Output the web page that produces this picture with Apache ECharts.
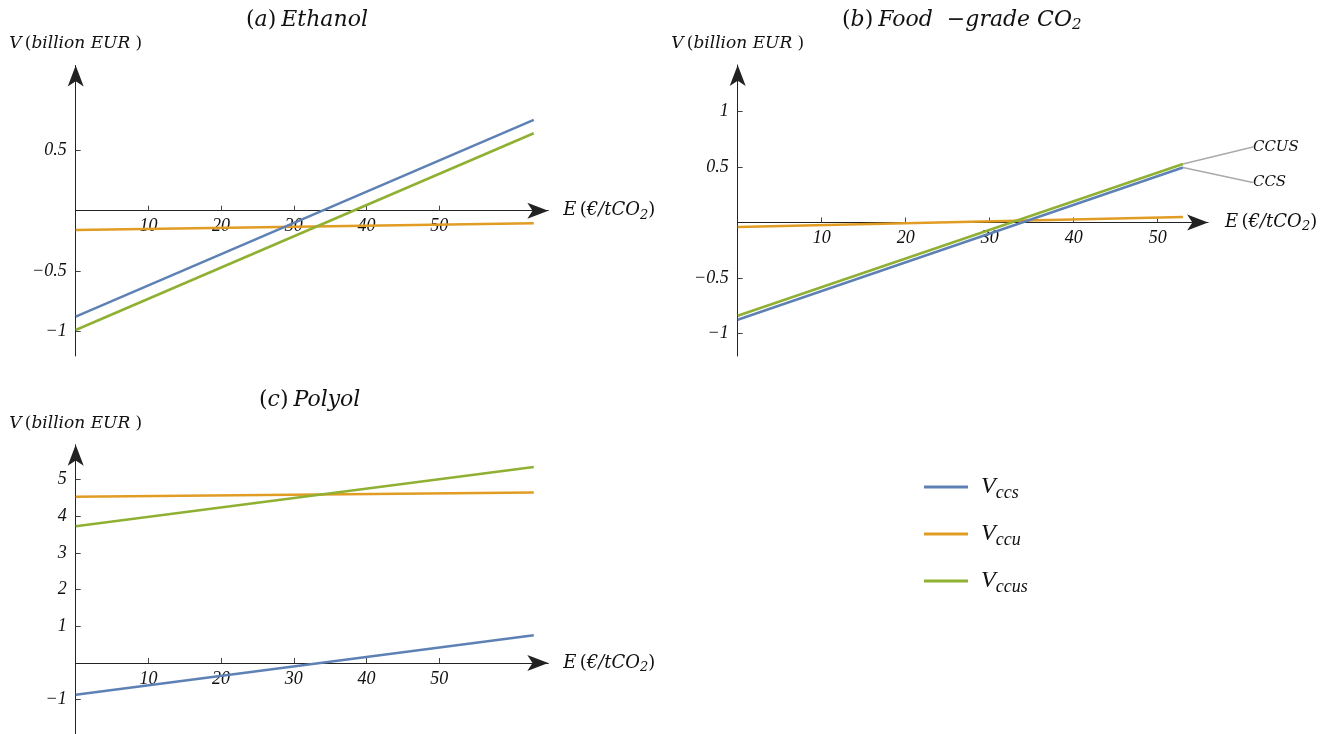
<!DOCTYPE html>
<html>
<head>
<meta charset="utf-8">
<script src="https://cdn.jsdelivr.net/npm/echarts@6/dist/echarts.min.js"></script>
<style>
html,body{margin:0;padding:0;background:#fff;}
#chart{width:1330px;height:734px;}
</style>
</head>
<body>
<div id="chart"></div>
<script>
// ---------- data ----------
const xTicks = [10, 20, 30, 40, 50];

// (a) Ethanol
const aE = [0, 63];
const aCcs = [-0.876, 0.75];
const aCcu = [-0.16, -0.104];
const aCcus = [-0.986, 0.64];
const aYTicks = [-1, -0.5, 0.5];

// (b) Food-grade CO2
const bE = [0, 53];
const bCcs = [-0.874, 0.494];
const bCcu = [-0.04, 0.049];
const bCcus = [-0.838, 0.525];
const bYTicks = [-1, -0.5, 0.5, 1];
const bCallouts = ['CCUS', 'CCS'];

// (c) Polyol
const cE = [0, 63];
const cCcs = [-0.865, 0.753];
const cCcu = [4.53, 4.65];
const cCcus = [3.73, 5.345];
const cYTicks = [-1, 1, 2, 3, 4, 5];

const seriesNames = ['Vccs', 'Vccu', 'Vccus'];
const legendSubs = { Vccs: 'ccs', Vccu: 'ccu', Vccus: 'ccus' };
const colors = ['#5E81B5', '#E19C24', '#8FB032'];

// ---------- styling helpers ----------
const FONT = "'Liberation Serif', 'DejaVu Serif', serif";
const WIDE = "'DejaVu Serif', 'Liberation Serif', serif";
const pairs = (xs, ys) => xs.map((x, i) => [x, ys[i]]);
const minus = v => String(v).replace('-', '\u2212');

const xNameRich = {
  i: { fontFamily: WIDE, fontStyle: 'italic', fontSize: 18, color: '#111' },
  n: { fontFamily: WIDE, fontSize: 18, color: '#111' },
  sub: { fontFamily: WIDE, fontStyle: 'italic', fontSize: 13, color: '#111', padding: [9, 0, 0, 0] }
};
const xName = '{i|E} {n|(}{i|\u20AC/tCO}{sub|2}{n|)}';
const yName = '{i|V} {n|(}{i|billion EUR }{n|)}';
const yNameRich = {
  i: { fontFamily: WIDE, fontStyle: 'italic', fontSize: 17, color: '#111' },
  n: { fontFamily: WIDE, fontSize: 17, color: '#111' }
};

const AXIS_COLOR = '#222';

// x axis sits on y = 0: its offset is derived from the y scale of the same panel
function xAxisFor(gi, max, gap, yMin, yMax, gridH) {
  const zeroOffset = -((0 - yMin) / (yMax - yMin)) * gridH;
  return {
    gridIndex: gi, type: 'value', min: 0, max: max,
    position: 'bottom', offset: zeroOffset,
    name: xName, nameLocation: 'end', nameGap: gap,
    nameTextStyle: { rich: xNameRich, align: 'left', verticalAlign: 'middle' },
    axisLine: { onZero: false, lineStyle: { color: AXIS_COLOR, width: 1 },
      symbol: ['none', 'arrow'], symbolSize: [12, 21], symbolOffset: [0, 0] },
    axisTick: { show: true, inside: true, length: 5, customValues: xTicks, lineStyle: { color: '#444' } },
    axisLabel: { customValues: xTicks, margin: 7, fontFamily: FONT, fontStyle: 'italic', fontSize: 18, color: '#111' },
    splitLine: { show: false }
  };
}
function yAxisFor(gi, min, max, ticks) {
  return {
    gridIndex: gi, type: 'value', min: min, max: max,
    name: yName, nameLocation: 'end', nameGap: 13,
    nameTextStyle: { rich: yNameRich, align: 'center' },
    axisLine: { onZero: false, lineStyle: { color: AXIS_COLOR, width: 1 },
      symbol: ['none', 'arrow'], symbolSize: [12, 21], symbolOffset: [0, 0] },
    axisTick: { show: true, inside: true, length: 5, customValues: ticks, lineStyle: { color: '#444' } },
    axisLabel: { customValues: ticks, margin: 9, formatter: minus, fontFamily: FONT, fontStyle: 'italic', fontSize: 18, color: '#111' },
    splitLine: { show: false }
  };
}

function lineSeries(name, gi, data, extra) {
  const idx = seriesNames.indexOf(name);
  return Object.assign({
    name: name, type: 'line', xAxisIndex: gi, yAxisIndex: gi,
    data: data, showSymbol: false, symbol: 'none', silent: true,
    lineStyle: { color: colors[idx], width: 2.5 },
    itemStyle: { color: colors[idx] },
    emphasis: { disabled: true }
  }, extra || {});
}

function calloutData(xs, ys, text) {
  return [[xs[0], ys[0]], {
    value: [xs[1], ys[1]],
    symbol: 'circle', symbolSize: 0,
    label: { show: true, formatter: text }
  }];
}
const calloutLabel = { show: false, position: 'right', distance: 4,
  fontFamily: WIDE, fontStyle: 'italic', fontSize: 15, color: '#111' };
const calloutLine = { show: true, smooth: 0.4, lineStyle: { color: '#aaa', width: 1.5 } };

const titleRich = {
  p: { fontFamily: WIDE, fontWeight: 'normal', fontSize: 22, color: '#111', lineHeight: 28 },
  i: { fontFamily: WIDE, fontWeight: 'normal', fontStyle: 'italic', fontSize: 22, color: '#111', lineHeight: 28 },
  s: { fontFamily: WIDE, fontWeight: 'normal', fontStyle: 'italic', fontSize: 15, color: '#111', lineHeight: 28, padding: [10, 0, 0, 0] }
};

const legendRich = {
  v: { fontFamily: FONT, fontStyle: 'italic', fontSize: 24, color: '#111' },
  s: { fontFamily: FONT, fontStyle: 'italic', fontSize: 18, color: '#111', padding: [12, 0, 0, 0] }
};

const grids = [
  { left: 75.7, top: 65.5, width: 472.6, height: 290.4 },
  { left: 737.7, top: 65.0, width: 470.4, height: 291.0 },
  { left: 75.7, top: 444.8, width: 472.6, height: 291.5 }
];
const yRanges = [[-1.2, 1.2], [-1.2, 1.415], [-2, 5.95]];

const option = {
  animation: false,
  backgroundColor: '#fff',
  title: [
    { text: '{p|(}{i|a}{p|)} {i|Ethanol}', left: 246, top: 6, padding: 0, textStyle: { fontWeight: 'normal', rich: titleRich } },
    { text: '{p|(}{i|b}{p|)} {i|Food  \u2212grade CO}{s|2}', left: 842, top: 6, padding: 0, textStyle: { fontWeight: 'normal', rich: titleRich } },
    { text: '{p|(}{i|c}{p|)} {i|Polyol}', left: 259, top: 386, padding: 0, textStyle: { fontWeight: 'normal', rich: titleRich } }
  ],
  legend: {
    orient: 'vertical', left: 919, top: 470,
    itemWidth: 44, itemHeight: 3, itemGap: 20, icon: 'rect',
    data: seriesNames,
    formatter: n => '{v|V}{s|' + legendSubs[n] + '}',
    textStyle: { rich: legendRich, padding: [0, 0, 0, 8] },
    selectedMode: false
  },
  grid: grids.map(g => Object.assign({ outerBoundsMode: 'none', containLabel: false }, g)),
  xAxis: [
    xAxisFor(0, 65, 15, yRanges[0][0], yRanges[0][1], grids[0].height),
    xAxisFor(1, 56, 17, yRanges[1][0], yRanges[1][1], grids[1].height),
    xAxisFor(2, 65, 15, yRanges[2][0], yRanges[2][1], grids[2].height)
  ],
  yAxis: [
    yAxisFor(0, yRanges[0][0], yRanges[0][1], aYTicks),
    yAxisFor(1, yRanges[1][0], yRanges[1][1], bYTicks),
    yAxisFor(2, yRanges[2][0], yRanges[2][1], cYTicks)
  ],
  series: [
    lineSeries('Vccu', 0, pairs(aE, aCcu)),
    lineSeries('Vccus', 0, pairs(aE, aCcus)),
    lineSeries('Vccs', 0, pairs(aE, aCcs)),

    lineSeries('Vccu', 1, pairs(bE, bCcu)),
    lineSeries('Vccs', 1, calloutData(bE, bCcs, bCallouts[1]), {
      showSymbol: true, symbol: 'circle', symbolSize: 0,
      label: calloutLabel, labelLine: calloutLine, labelLayout: { dx: 66, dy: 15 }
    }),
    lineSeries('Vccus', 1, calloutData(bE, bCcus, bCallouts[0]), {
      showSymbol: true, symbol: 'circle', symbolSize: 0,
      label: calloutLabel, labelLine: calloutLine, labelLayout: { dx: 66, dy: -17 }
    }),

    lineSeries('Vccu', 2, pairs(cE, cCcu)),
    lineSeries('Vccus', 2, pairs(cE, cCcus)),
    lineSeries('Vccs', 2, pairs(cE, cCcs))
  ]
};

const chart = echarts.init(document.getElementById('chart'), null, { renderer: 'canvas' });
chart.setOption(option);
</script>
</body>
</html>
